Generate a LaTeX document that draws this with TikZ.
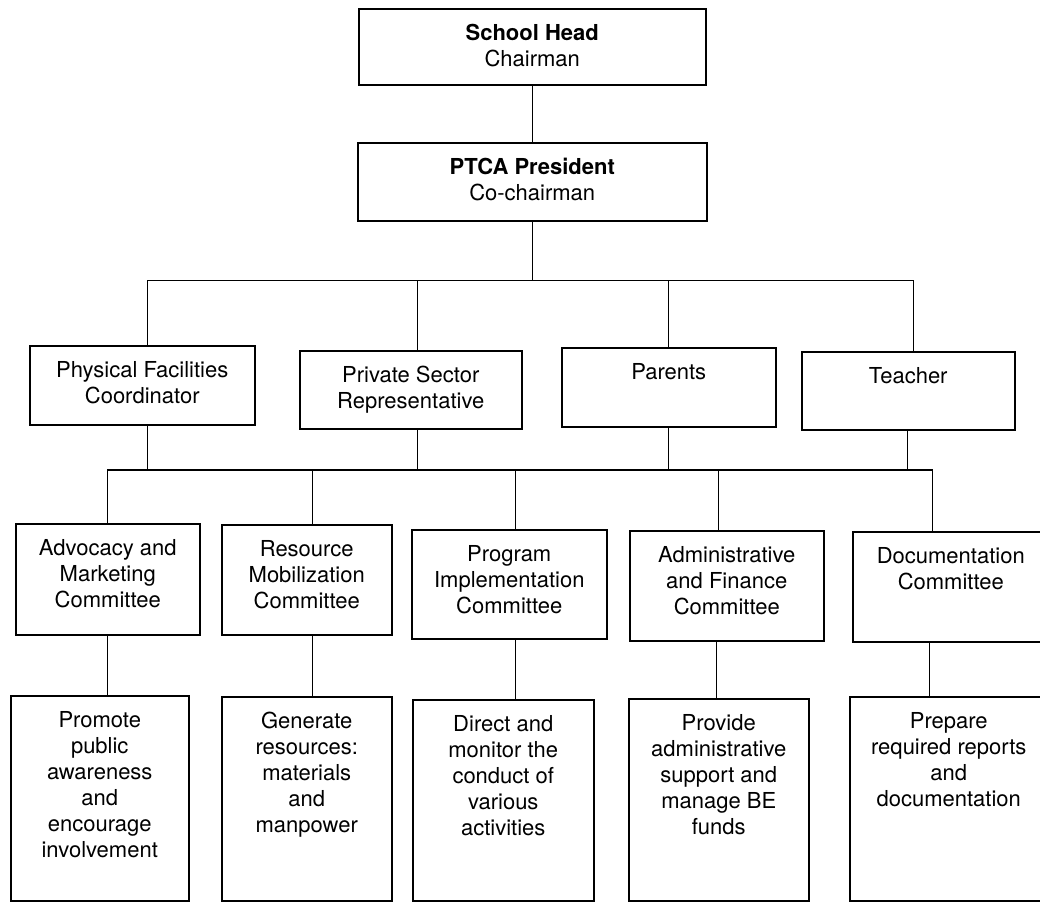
\documentclass[tikz,border=0pt]{standalone}
\usepackage{fontspec}
\setmainfont{TeX Gyre Heros}
\usepackage{tikz}

% fixed-size box, first line 32pt below the top edge
\newcommand{\cellbox}[3]{\parbox[c][#2pt][t]{#1pt}{\centering\rule{0pt}{32pt}#3}}

\begin{document}
\begin{tikzpicture}
[x=1pt,y=-1pt
,cell/.style={draw,line width=1.5pt,inner sep=0pt,anchor=north west,font=\fontsize{22}{26}\selectfont}
,link/.style={draw,line width=1.3pt}
]
\useasboundingbox (0,0) rectangle (1040,902);
% top
\node[cell] (head) at (358,8) {\cellbox{347}{76}{\textbf{School Head}\\Chairman}};
\node[cell] (ptca) at (357,142) {\cellbox{349}{78}{\textbf{PTCA President}\\Co-chairman}};
% members
\node[cell] (phys) at (29,345) {\cellbox{225}{79}{Physical Facilities\\Coordinator}};
\node[cell] (priv) at (299,350) {\cellbox{222}{78}{Private Sector\\Representative}};
\node[cell] (par) at (561,347) {\cellbox{214}{79}{Parents}};
\node[cell] (tea) at (801,351) {\cellbox{213}{78}{Teacher}};
% committees
\node[cell] (adv) at (15,523) {\cellbox{184}{111}{Advocacy and\\Marketing\\Committee}};
\node[cell] (res) at (221,524) {\cellbox{170}{110}{Resource\\Mobilization\\Committee}};
\node[cell] (prog) at (411,529) {\cellbox{195}{109}{Program\\Implementation\\Committee}};
\node[cell] (adm) at (629,530) {\cellbox{194}{110}{Administrative\\and Finance\\Committee}};
\node[cell] (doc) at (852,531) {\cellbox{196}{110}{Documentation\\Committee}};
% tasks
\node[cell] (prom) at (10,695) {\cellbox{178}{205}{Promote\\public\\awareness\\and\\encourage\\involvement}};
\node[cell] (gen) at (221,696) {\cellbox{170}{204}{Generate\\resources:\\materials\\and\\manpower}};
\node[cell] (dir) at (412,699) {\cellbox{181}{201}{Direct and\\monitor the\\conduct of\\various\\activities}};
\node[cell] (prov) at (628,698) {\cellbox{180}{202}{Provide\\administrative\\support and\\manage BE\\funds}};
\node[cell] (prep) at (849,696) {\cellbox{198}{204}{Prepare\\required reports\\and\\documentation}};
% connectors
\draw[link] (head) -- (ptca);
\draw[link] (ptca.south) -- ++(0,59) coordinate (bus1);
\draw[link] ([xshift=5]phys.north) |- (bus1) -| ([xshift=5]tea.north);
\draw[link] ([xshift=7]priv.north) -- ([xshift=7]priv.north |- bus1);
\draw[link] (par.north) -- (par.north |- bus1);
\coordinate (bus2) at (520,470);
\foreach \n/\dx in {phys/5,priv/7,par/0,tea/-1}
  \draw[link] ([xshift=\dx]\n.south) -- ([xshift=\dx]\n.south |- bus2);
\draw[link] (adv.north) |- (bus2) -| ([xshift=-18]doc.north);
\foreach \n/\dx in {res/6,prog/6,adm/-8}
  \draw[link] ([xshift=\dx]\n.north) -- ([xshift=\dx]\n.north |- bus2);
\foreach \a/\b/\dx in {adv/prom/0,res/gen/6,prog/dir/6,adm/prov/-10,doc/prep/-21}
  \draw[link] ([xshift=\dx]\a.south) -- ([xshift=\dx]\a.south |- \b.north);
\end{tikzpicture}
\end{document}
